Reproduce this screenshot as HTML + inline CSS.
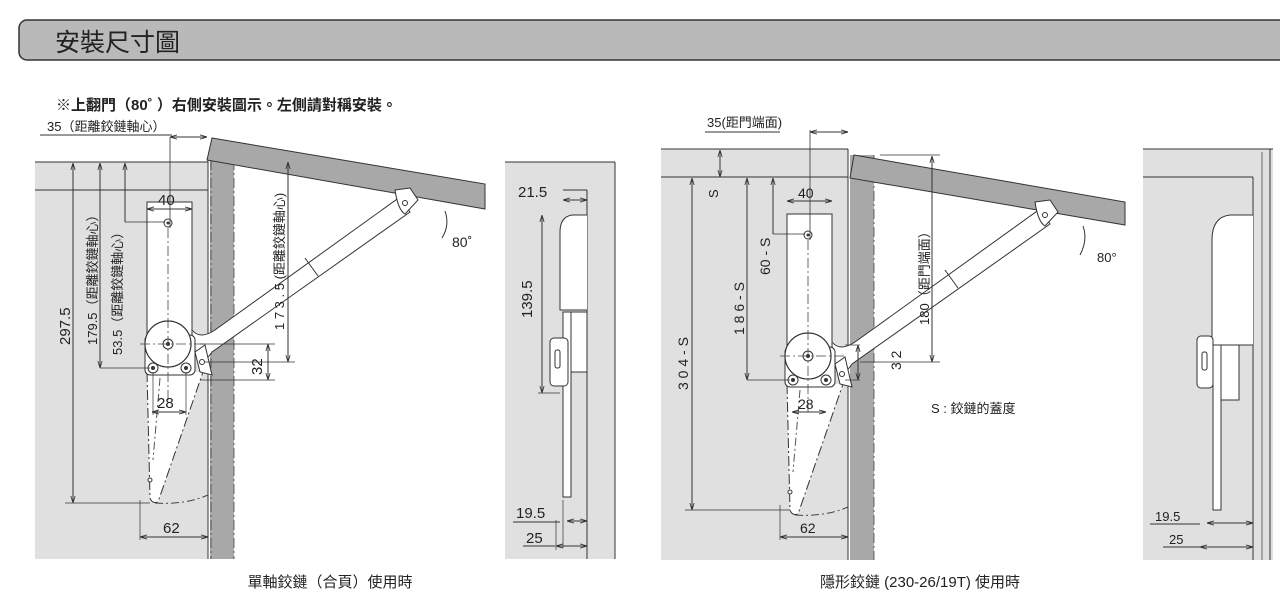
<!DOCTYPE html>
<html><head><meta charset="utf-8"><style>
html,body{margin:0;padding:0;background:#fff;width:1280px;height:607px;overflow:hidden}
svg{display:block}
text{font-family:"Liberation Sans","Noto Sans CJK TC",sans-serif;fill:#222}
</style></head><body>
<svg width="1280" height="607" viewBox="0 0 1280 607" xmlns="http://www.w3.org/2000/svg">
<defs>
<marker id="a" viewBox="0 0 10 10" refX="10" refY="5" markerWidth="7" markerHeight="7" orient="auto-start-reverse"><path d="M0,2 L10,5 L0,8" fill="none" stroke="#333" stroke-width="1.2"/></marker>
<g id="hinge">
 <path d="M147,372 L150,498 Q152,504 158,502 L203,372" fill="#fff" stroke="#333" stroke-width="1" stroke-dasharray="10,3,2,3"/>
 <path d="M160,378 L153,460" stroke="#555" stroke-dasharray="8,3,2,3" fill="none"/>
 <rect x="147" y="202" width="45" height="135" fill="#fff" stroke="#333"/>
 <path d="M192,330 Q200,340 215,330 L400,197 L410,212 L212,352 Q205,362 200,365" fill="#fff" stroke="#333"/>
 <line x1="305" y1="258" x2="318" y2="276" stroke="#333"/>
 <rect x="145" y="335" width="50" height="40" rx="5" fill="#fff" stroke="#333"/>
 <circle cx="168" cy="344" r="23" fill="#fff" stroke="#333" stroke-width="1.2"/>
 <circle cx="168" cy="344" r="5" fill="#fff" stroke="#333"/><circle cx="168" cy="344" r="2" fill="#333"/>
 <circle cx="153" cy="368" r="5" fill="#fff" stroke="#333"/><circle cx="153" cy="368" r="2" fill="#333"/>
 <circle cx="186" cy="368" r="5" fill="#fff" stroke="#333"/><circle cx="186" cy="368" r="2" fill="#333"/>
 <circle cx="168" cy="223" r="4" fill="#fff" stroke="#333"/><circle cx="168" cy="223" r="1.5" fill="#333"/>
 <path d="M195,352 L205,345 L212,375 L200,372 Z" fill="#fff" stroke="#333"/>
 <circle cx="202" cy="362" r="2.5" fill="#fff" stroke="#333"/>
 <path d="M395,190 L410,188 L418,200 L405,214 Q398,210 395,190Z" fill="#fff" stroke="#333"/>
 <circle cx="405" cy="203" r="2.5" fill="#fff" stroke="#333"/>
 <line x1="168" y1="228" x2="168" y2="400" stroke="#444" stroke-width=".8" stroke-dasharray="10,3,2,3"/>
 <line x1="140" y1="344" x2="205" y2="344" stroke="#444" stroke-width=".8" stroke-dasharray="10,3,2,3"/>
 <circle cx="150" cy="480" r="2" fill="#fff" stroke="#333"/>
 <path d="M155,503 Q185,505 208,495" stroke="#444" fill="none" stroke-dasharray="8,3,2,3"/>
</g>
</defs>
<!-- header -->
<rect x="19" y="20" width="1275" height="40" rx="8" fill="#b9b9b9" stroke="#333" stroke-width="1.5"/>
<text x="55" y="51" font-size="25">安裝尺寸圖</text>
<text x="56" y="110" font-size="15" font-weight="bold">※上翻門（80˚ ）右側安裝圖示。左側請對稱安裝。</text>

<!-- LEFT DRAWING -->
<rect x="35" y="162" width="173" height="397" fill="#e0e0e0"/>
<line x1="35" y1="162" x2="208" y2="162" stroke="#333"/>
<line x1="35" y1="190" x2="208" y2="190" stroke="#333"/>
<rect x="210" y="160" width="24" height="399" fill="#a8a8a8"/>
<line x1="208" y1="160" x2="208" y2="559" stroke="#333"/>
<line x1="211" y1="160" x2="211" y2="559" stroke="#333" stroke-width=".7" stroke-dasharray="10,3,2,3"/>
<line x1="234" y1="160" x2="234" y2="559" stroke="#444" stroke-width=".8" stroke-dasharray="10,3,2,3"/>
<polygon points="212,138 485,184 485,209 207,160" fill="#a8a8a8" stroke="#333"/>
<use href="#hinge"/>
<path d="M445,211 Q450,225 442,238" fill="none" stroke="#333"/>
<text x="452" y="247" font-size="14">80˚</text>
<!-- dims -->
<text x="47" y="131" font-size="13">35（距離鉸鏈軸心）</text>
<line x1="40" y1="135" x2="172" y2="135" stroke="#333"/>
<line x1="170" y1="137" x2="207" y2="137" stroke="#333" marker-start="url(#a)" marker-end="url(#a)"/>
<line x1="170" y1="137" x2="170" y2="228" stroke="#333" stroke-width=".8"/>
<line x1="73" y1="163" x2="73" y2="503" stroke="#333" marker-start="url(#a)" marker-end="url(#a)"/>
<line x1="65" y1="503" x2="150" y2="503" stroke="#333" stroke-width=".8"/>
<text transform="translate(70,345) rotate(-90)" font-size="15">297.5</text>
<line x1="100" y1="163" x2="100" y2="368" stroke="#333" marker-start="url(#a)" marker-end="url(#a)"/>
<line x1="100" y1="368" x2="150" y2="368" stroke="#333" stroke-width=".8"/>
<text transform="translate(97,345) rotate(-90)" font-size="13">179.5（距離鉸鏈軸心）</text>
<line x1="125" y1="163" x2="125" y2="222" stroke="#333" marker-start="url(#a)"/>
<line x1="125" y1="222" x2="165" y2="222" stroke="#333" stroke-width=".8"/>
<text transform="translate(122,355) rotate(-90)" font-size="13">53.5（距離鉸鏈軸心）</text>
<text x="158" y="205" font-size="15">40</text>
<line x1="147" y1="209" x2="192" y2="209" stroke="#333" marker-start="url(#a)" marker-end="url(#a)"/>
<text x="157" y="408" font-size="15">28</text>
<line x1="152" y1="412" x2="186" y2="412" stroke="#333" marker-start="url(#a)" marker-end="url(#a)"/>
<line x1="153" y1="372" x2="153" y2="415" stroke="#333" stroke-width=".7"/>
<line x1="186" y1="372" x2="186" y2="415" stroke="#333" stroke-width=".7"/>
<text x="163" y="533" font-size="15">62</text>
<line x1="140" y1="537" x2="208" y2="537" stroke="#333" marker-start="url(#a)" marker-end="url(#a)"/>
<line x1="140" y1="500" x2="140" y2="540" stroke="#333" stroke-width=".7"/>
<line x1="200" y1="344" x2="275" y2="344" stroke="#333" stroke-width=".7"/>
<line x1="200" y1="380" x2="275" y2="380" stroke="#333" stroke-width=".7"/>
<line x1="268" y1="344" x2="268" y2="380" stroke="#333" marker-start="url(#a)" marker-end="url(#a)"/>
<text transform="translate(262,375) rotate(-90)" font-size="15">32</text>
<line x1="288" y1="162" x2="288" y2="362" stroke="#333" marker-start="url(#a)" marker-end="url(#a)"/>
<line x1="205" y1="362" x2="295" y2="362" stroke="#333" stroke-width=".7"/>
<text transform="translate(284,330) rotate(-90)" font-size="13">1 7 3 . 5 (距離鉸鏈軸心)</text>
<!-- left side panel -->
<rect x="505" y="162" width="110" height="397" fill="#e0e0e0"/>
<line x1="505" y1="162" x2="615" y2="162" stroke="#333"/>
<line x1="615" y1="162" x2="615" y2="559" stroke="#333"/>
<line x1="587" y1="190" x2="587" y2="559" stroke="#333"/>
<line x1="563" y1="190" x2="587" y2="190" stroke="#333"/>
<path d="M587,215 L572,215 Q560,217 560,232 L560,310 L587,310" fill="#fff" stroke="#333"/>
<rect x="563" y="312" width="8" height="185" fill="#fff" stroke="#333"/>
<rect x="571" y="312" width="16" height="60" fill="#fff" stroke="#333"/>
<rect x="550" y="338" width="18" height="48" rx="4" fill="#fff" stroke="#333"/>
<rect x="555" y="350" width="5" height="18" rx="2" fill="#fff" stroke="#333"/>
<text x="518" y="197" font-size="15">21.5</text>
<line x1="563" y1="200" x2="587" y2="200" stroke="#333" marker-start="url(#a)" marker-end="url(#a)"/>
<line x1="542" y1="215" x2="542" y2="393" stroke="#333" marker-start="url(#a)" marker-end="url(#a)"/>
<line x1="538" y1="393" x2="560" y2="393" stroke="#333" stroke-width=".7"/>
<text transform="translate(532,318) rotate(-90)" font-size="15">139.5</text>
<text x="516" y="518" font-size="15">19.5</text>
<line x1="513" y1="522" x2="560" y2="522" stroke="#333"/>
<line x1="567" y1="521" x2="587" y2="521" stroke="#333" marker-start="url(#a)" marker-end="url(#a)"/>
<text x="526" y="543" font-size="15">25</text>
<line x1="523" y1="546" x2="555" y2="546" stroke="#333"/>
<line x1="556" y1="546" x2="587" y2="546" stroke="#333" marker-start="url(#a)" marker-end="url(#a)"/>
<line x1="563" y1="500" x2="563" y2="548" stroke="#333" stroke-width=".7"/>
<line x1="556" y1="520" x2="556" y2="550" stroke="#333" stroke-width=".7"/>
<text x="330" y="587" font-size="15" text-anchor="middle">單軸鉸鏈（合頁）使用時</text>

<!-- RIGHT DRAWING -->
<rect x="661" y="149" width="187" height="411" fill="#e0e0e0"/>
<line x1="661" y1="149" x2="848" y2="149" stroke="#333"/>
<line x1="661" y1="177" x2="848" y2="177" stroke="#333"/>
<rect x="850" y="155" width="24" height="405" fill="#a8a8a8"/>
<line x1="848" y1="149" x2="848" y2="560" stroke="#333"/>
<line x1="874" y1="155" x2="874" y2="560" stroke="#444" stroke-width=".8" stroke-dasharray="10,3,2,3"/>
<polygon points="854,155 1125,202 1125,225 850,178" fill="#a8a8a8" stroke="#333"/>
<use href="#hinge" transform="translate(640,12)"/>
<path d="M1083,226 Q1088,240 1080,255" fill="none" stroke="#333"/>
<text x="1097" y="262" font-size="13">80°</text>
<text x="707" y="127" font-size="13">35(距門端面)</text>
<line x1="705" y1="132" x2="780" y2="132" stroke="#333"/>
<line x1="810" y1="132" x2="848" y2="132" stroke="#333" marker-start="url(#a)" marker-end="url(#a)"/>
<line x1="810" y1="130" x2="810" y2="240" stroke="#333" stroke-width=".8"/>
<line x1="720" y1="150" x2="720" y2="177" stroke="#333" marker-start="url(#a)" marker-end="url(#a)"/>
<text transform="translate(718,198) rotate(-90)" font-size="13">S</text>
<line x1="692" y1="178" x2="692" y2="510" stroke="#333" marker-start="url(#a)" marker-end="url(#a)"/>
<line x1="685" y1="510" x2="790" y2="510" stroke="#333" stroke-width=".8"/>
<text transform="translate(688,390) rotate(-90)" font-size="14">3 0 4 - S</text>
<line x1="747" y1="178" x2="747" y2="380" stroke="#333" marker-start="url(#a)" marker-end="url(#a)"/>
<line x1="747" y1="380" x2="790" y2="380" stroke="#333" stroke-width=".8"/>
<text transform="translate(744,335) rotate(-90)" font-size="14">1 8 6 - S</text>
<line x1="773" y1="178" x2="773" y2="234" stroke="#333" marker-start="url(#a)"/>
<line x1="773" y1="234" x2="805" y2="234" stroke="#333" stroke-width=".8"/>
<text transform="translate(770,275) rotate(-90)" font-size="14">60 - S</text>
<text x="798" y="198" font-size="14">40</text>
<line x1="787" y1="201" x2="832" y2="201" stroke="#333" marker-start="url(#a)" marker-end="url(#a)"/>
<text x="798" y="409" font-size="14">28</text>
<line x1="792" y1="412" x2="826" y2="412" stroke="#333" marker-start="url(#a)" marker-end="url(#a)"/>
<text x="800" y="533" font-size="14">62</text>
<line x1="780" y1="537" x2="848" y2="537" stroke="#333" marker-start="url(#a)" marker-end="url(#a)"/>
<line x1="780" y1="505" x2="780" y2="540" stroke="#333" stroke-width=".7"/>
<line x1="845" y1="345" x2="860" y2="345" stroke="#333" stroke-width=".7"/>
<line x1="845" y1="380" x2="860" y2="380" stroke="#333" stroke-width=".7"/>
<line x1="858" y1="345" x2="858" y2="380" stroke="#333" marker-start="url(#a)" marker-end="url(#a)"/>
<text transform="translate(901,370) rotate(-90)" font-size="14">3 2</text>
<line x1="932" y1="156" x2="932" y2="362" stroke="#333" marker-start="url(#a)" marker-end="url(#a)"/>
<line x1="860" y1="362" x2="940" y2="362" stroke="#333" stroke-width=".7"/>
<line x1="880" y1="155" x2="940" y2="155" stroke="#333" stroke-width=".7"/>
<text transform="translate(929,325) rotate(-90)" font-size="13">180（距門端面）</text>
<text x="931" y="413" font-size="13">S : 鉸鏈的蓋度</text>
<!-- right side panel -->
<rect x="1143" y="149" width="130" height="411" fill="#e0e0e0"/>
<line x1="1143" y1="149" x2="1273" y2="149" stroke="#333"/>
<line x1="1270" y1="149" x2="1270" y2="560" stroke="#333"/>
<line x1="1262" y1="152" x2="1262" y2="560" stroke="#333" stroke-width=".7"/>
<line x1="1143" y1="177" x2="1253" y2="177" stroke="#333"/>
<line x1="1253" y1="177" x2="1253" y2="560" stroke="#333"/>
<path d="M1253,215 L1230,215 Q1212,217 1212,240 L1212,345 L1253,345" fill="#fff" stroke="#333"/>
<rect x="1213" y="345" width="8" height="165" fill="#fff" stroke="#333"/>
<rect x="1221" y="345" width="18" height="55" fill="#fff" stroke="#333"/>
<rect x="1197" y="336" width="16" height="52" rx="4" fill="#fff" stroke="#333"/>
<rect x="1202" y="352" width="5" height="18" rx="2" fill="#fff" stroke="#333"/>
<text x="1155" y="521" font-size="13">19.5</text>
<line x1="1150" y1="524" x2="1200" y2="524" stroke="#333"/>
<line x1="1207" y1="523" x2="1253" y2="523" stroke="#333" marker-start="url(#a)" marker-end="url(#a)"/>
<text x="1169" y="544" font-size="13">25</text>
<line x1="1163" y1="547" x2="1200" y2="547" stroke="#333"/>
<line x1="1200" y1="547" x2="1253" y2="547" stroke="#333" marker-start="url(#a)" marker-end="url(#a)"/>
<text x="920" y="587" font-size="15" text-anchor="middle">隱形鉸鏈 (230-26/19T) 使用時</text>
</svg>
</body></html>
